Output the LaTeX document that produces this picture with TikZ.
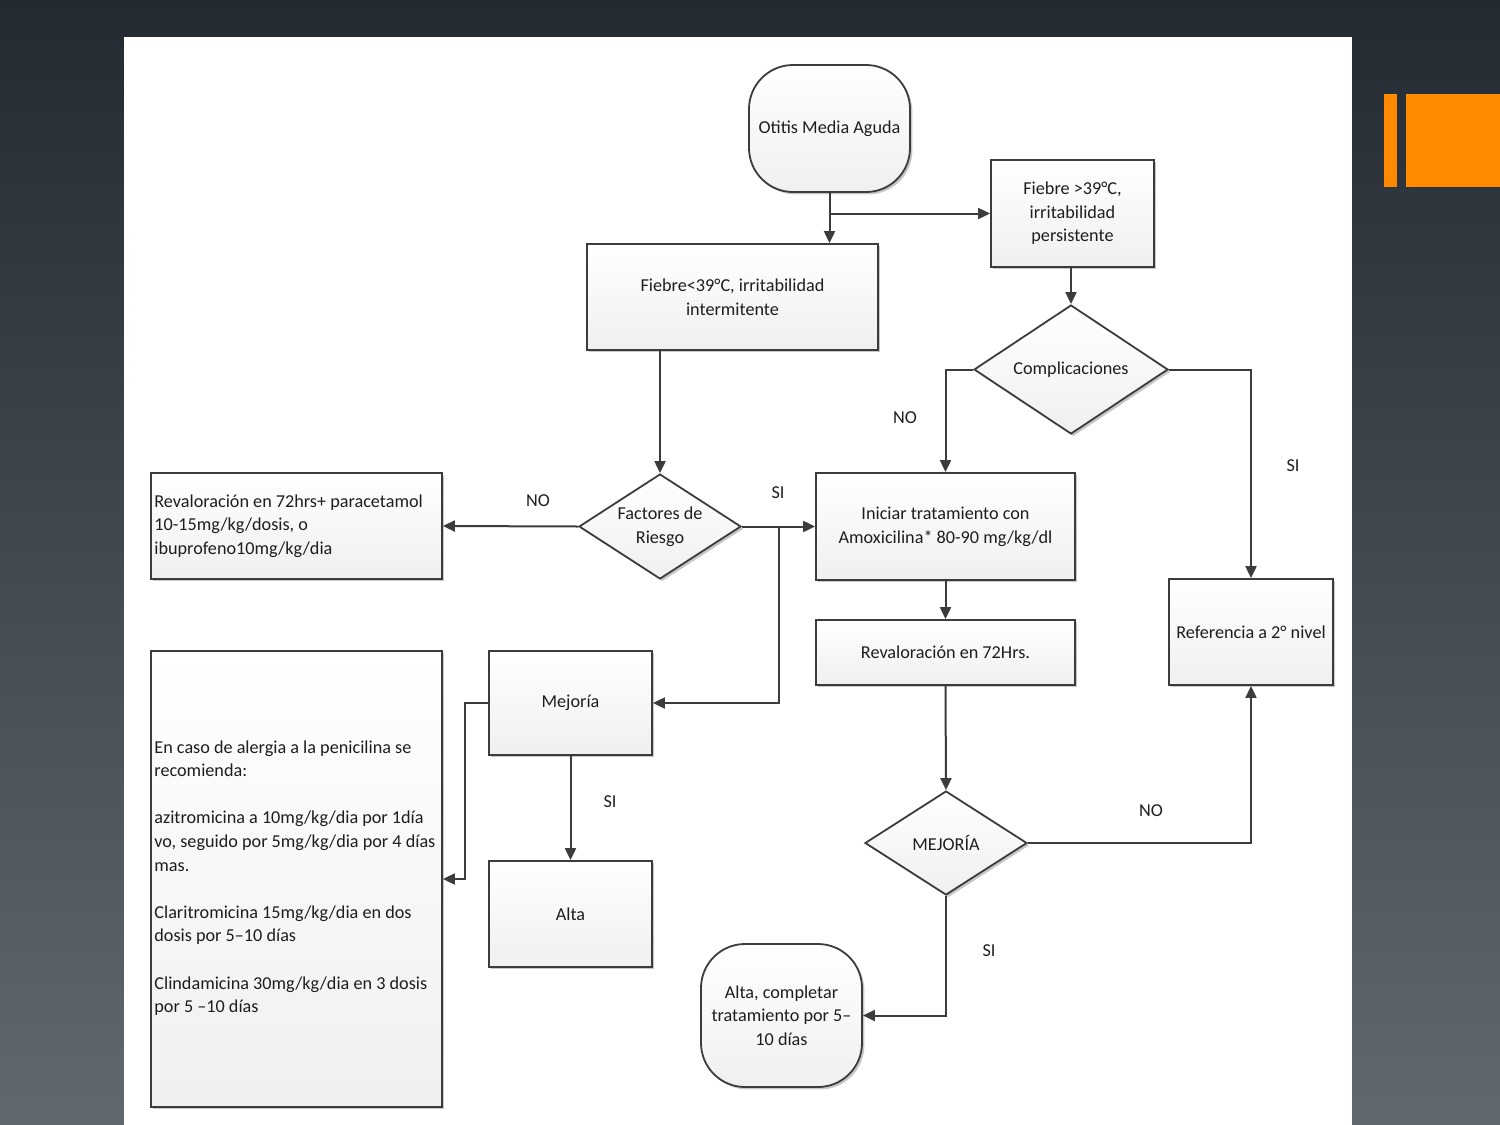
\documentclass[tikz,border=0pt]{standalone}
\usepackage{fontspec}
\setmainfont{Carlito}
\usetikzlibrary{shapes.geometric,arrows.meta,shadows}
\definecolor{bgtop}{HTML}{232A32}
\definecolor{bgmid}{HTML}{2C333B}
\definecolor{bgbot}{HTML}{606970}
\definecolor{orng}{HTML}{FF8A00}
\definecolor{edge}{HTML}{3C3C3C}
\definecolor{txt}{HTML}{1E1E1E}
\tikzset{
  shp/.style={draw=edge, line width=0.9pt, top color=white, bottom color=gray!12,
    drop shadow={shadow xshift=1.2pt, shadow yshift=-1.2pt, fill=black, opacity=0.22},
    text=txt, font=\fontsize{9.1}{11.8}\selectfont, align=center, inner sep=1.5pt},
  boxn/.style={shp, rectangle},
  termn/.style={shp, rectangle, rounded corners=22pt},
  decn/.style={shp, diamond, aspect=1.5, inner sep=0pt},
  ltxt/.style={text=txt, font=\fontsize{9.1}{11.8}\selectfont, align=left, inner sep=0pt, anchor=west},
  arr/.style={draw=edge, line width=1pt, -{Triangle[width=5.5pt,length=6pt]}},
  lbl/.style={text=txt, font=\fontsize{9.1}{10}\selectfont, inner sep=0pt}
}
\begin{document}
\begin{tikzpicture}[x=0.5pt,y=-0.5pt]
\useasboundingbox (0,0) rectangle (1500,1125);
\shade[top color=bgtop, middle color=bgmid, bottom color=bgbot] (0,0) rectangle (1500,1125);
\fill[white] (124,37) rectangle (1352,1125);
\fill[orng] (1384,94) rectangle (1397,187);
\fill[orng] (1406,94) rectangle (1500,187);

\node[termn, minimum width=80.5pt, minimum height=63.5pt] (otitis) at (829.5,128.5) {Otitis Media Aguda};
\node[boxn, minimum width=81.5pt, minimum height=53.5pt] (fg) at (1072.5,213.5) {Fiebre >39°C,\\ irritabilidad\\ persistente};
\node[boxn, minimum width=145.5pt, minimum height=53pt] (fl) at (732.5,297) {Fiebre<39°C, irritabilidad\\ intermitente};
\node[decn, minimum width=97pt, minimum height=64.5pt] (comp) at (1071,369.5) {Complicaciones};
\node[decn, minimum width=81pt, minimum height=52.5pt] (fact) at (660,526.5) {Factores de\\ Riesgo};
\node[boxn, minimum width=145.5pt, minimum height=53pt] (reval) at (296.5,526) {};
\node[ltxt] (revaltxt) at (154,526) {Revaloración en 72hrs+ paracetamol\\ 10-15mg/kg/dosis, o\\ ibuprofeno10mg/kg/dia};
\node[boxn, minimum width=129.5pt, minimum height=53.5pt] (ini) at (945.5,526.5) {Iniciar tratamiento con\\ Amoxicilina* 80-90 mg/kg/dl};
\node[boxn, minimum width=129.5pt, minimum height=32.5pt] (r72) at (945.5,652.5) {Revaloración en 72Hrs.};
\node[boxn, minimum width=82pt, minimum height=53pt] (ref) at (1251,632) {Referencia a 2° nivel};
\node[boxn, minimum width=81.5pt, minimum height=52pt] (mej) at (570.5,703) {Mejoría};
\node[boxn, minimum width=145.5pt, minimum height=228pt] (big) at (296.5,879) {};
\node[ltxt] (bigtxt) at (154,878) {En caso de alergia a la penicilina se\\ recomienda:\\[11.8pt] azitromicina a 10mg/kg/dia por 1día\\ vo, seguido por 5mg/kg/dia por 4 días\\ mas.\\[11.8pt] Claritromicina 15mg/kg/dia en dos\\ dosis por 5–10 días\\[11.8pt] Clindamicina 30mg/kg/dia en 3 dosis\\ por 5 –10 días};
\node[boxn, minimum width=81.5pt, minimum height=53pt] (alta) at (570.5,914) {Alta};
\node[decn, minimum width=81pt, minimum height=52pt] (mej2) at (946,843) {MEJORÍA};
\node[termn, minimum width=80.5pt, minimum height=71.5pt] (altac) at (781.5,1015.5) {Alta, completar\\ tratamiento por 5–\\ 10 días};

\coordinate (br) at (779,526.5);

\draw[arr] (otitis.south) -- (otitis.south |- fl.north);
\draw[arr] (otitis.south |- fg.west) -- (fg.west);
\draw[arr] (comp.north |- fg.south) -- (comp.north);
\draw[arr] (comp.west) -| (ini.north);
\draw[arr] (comp.east) -| (ref.north);
\draw[arr] (fact.north |- fl.south) -- (fact.north);
\draw[arr] (fact.west) -- (reval.east);
\draw[arr] (fact.east) -- (ini.west);
\draw[arr] (br) |- (mej.east);
\draw[arr] (ini.south) -- (r72.north);
\draw[arr] (r72.south) -- (mej2.north);
\draw[arr] (mej2.east) -| (ref.south);
\draw[arr] (mej2.south) |- (altac.east);
\draw[arr] (mej.west) -- ++(-23,0) |- (big.east);
\draw[arr] (mej.south) -- (alta.north);

\node[lbl] (l1) at (905,418) {NO};
\node[lbl] (l2) at (1293,466) {SI};
\node[lbl] (l3) at (538,501) {NO};
\node[lbl] (l4) at (778,493) {SI};
\node[lbl] (l5) at (610,802) {SI};
\node[lbl] (l6) at (1151,811) {NO};
\node[lbl] (l7) at (989,951) {SI};
\end{tikzpicture}
\end{document}
